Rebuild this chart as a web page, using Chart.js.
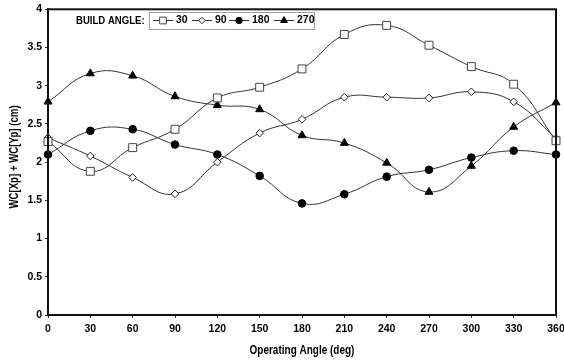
<!DOCTYPE html>
<html>
<head>
<meta charset="utf-8">
<script src="https://cdn.jsdelivr.net/npm/chart.js@4/dist/chart.umd.min.js"></script>
<style>
  html, body { margin: 0; padding: 0; background: #fff; }
  #wrap { width: 564px; height: 360px; }
</style>
</head>
<body>
<div id="wrap"><canvas id="c" width="564" height="360"></canvas></div>
<script>
// Operating angles (deg)
const angles = [0, 30, 60, 90, 120, 150, 180, 210, 240, 270, 300, 330, 360];

// WC[Xp] + WC[Yp] (cm) for each build angle
const build30  = [2.27, 1.88, 2.19, 2.43, 2.84, 2.98, 3.22, 3.67, 3.79, 3.53, 3.25, 3.02, 2.28];
const build90  = [2.32, 2.08, 1.80, 1.585, 2.00, 2.38, 2.56, 2.85, 2.85, 2.84, 2.92, 2.79, 2.31];
const build180 = [2.10, 2.41, 2.43, 2.23, 2.10, 1.82, 1.46, 1.58, 1.81, 1.90, 2.06, 2.15, 2.10];
const build270 = [2.79, 3.16, 3.13, 2.86, 2.745, 2.69, 2.35, 2.25, 1.99, 1.61, 1.95, 2.46, 2.78];

const seriesLabels = ['30', '90', '180', '270'];
const legendTitle = 'BUILD ANGLE:';
const xTitle = 'Operating Angle (deg)';
const yTitle = 'WC[Xp] + WC[Yp] (cm)';

const FONT = "'Liberation Sans', Arial, Helvetica, sans-serif";
const LINE = '#333333';

function pts(values) {
  return angles.map((a, i) => ({ x: a, y: values[i] }));
}

const markerStyles = [
  { pointStyle: 'rect',    radius: 5.6, fill: '#ffffff', stroke: '#444444' },
  { pointStyle: 'rectRot', radius: 3.8, fill: '#ffffff', stroke: '#222222' },
  { pointStyle: 'circle',  radius: 3.8, fill: '#000000', stroke: '#000000' },
  { pointStyle: 'triangle',radius: 4.6, fill: '#000000', stroke: '#000000' }
];

const seriesValues = [build30, build90, build180, build270];

const datasets = seriesValues.map((vals, i) => ({
  label: seriesLabels[i],
  data: pts(vals),
  borderColor: LINE,
  borderWidth: 1,
  tension: 0.45,
  pointStyle: markerStyles[i].pointStyle,
  pointRadius: markerStyles[i].radius,
  pointBackgroundColor: markerStyles[i].fill,
  pointBorderColor: markerStyles[i].stroke,
  pointBorderWidth: 1,
  clip: false
}));

// Condensed bold text helper (horizontal squeeze of a regular face)
function condensedText(ctx, text, x, y, size, squeeze, angle, align) {
  ctx.save();
  ctx.translate(x, y);
  if (angle) ctx.rotate(angle);
  ctx.scale(squeeze, 1);
  ctx.font = 'bold ' + size + 'px ' + FONT;
  ctx.fillStyle = '#000';
  ctx.textAlign = align || 'center';
  ctx.textBaseline = 'middle';
  ctx.fillText(text, 0, 0);
  ctx.restore();
}

// Frame around the plotting area, axis titles and the inline legend
const framePlugin = {
  id: 'frame',
  afterDatasetsDraw(chart) {
    const { ctx, chartArea: a } = chart;
    ctx.save();
    ctx.strokeStyle = '#111';
    ctx.lineWidth = 2;
    ctx.strokeRect(a.left, a.top, a.right - a.left, a.bottom - a.top);
    ctx.restore();
  },
  afterDraw(chart) {
    const { ctx, chartArea: a } = chart;

    condensedText(ctx, xTitle, (a.left + a.right) / 2, 350, 13.5, 0.74, 0);
    condensedText(ctx, yTitle, 14, 157, 13.5, 0.715, -Math.PI / 2);

    const cy = 20.5;
    condensedText(ctx, legendTitle, 76, cy, 11, 0.87, 0, 'left');

    ctx.save();
    ctx.font = 'bold 10.5px ' + FONT;
    ctx.fillStyle = '#000';
    ctx.textBaseline = 'middle';

    // legend box
    const boxL = 149, boxR = 314, boxT = 12, boxB = 29;
    ctx.strokeStyle = '#a0a0a0';
    ctx.lineWidth = 1;
    ctx.strokeRect(boxL + 0.5, boxT + 0.5, boxR - boxL, boxB - boxT);

    const symStarts = [153, 192, 229, 274];
    const symLen = 20;
    ctx.textAlign = 'left';
    seriesLabels.forEach((lab, i) => {
      const s = symStarts[i];
      ctx.strokeStyle = LINE;
      ctx.lineWidth = 1;
      ctx.beginPath();
      ctx.moveTo(s, cy);
      ctx.lineTo(s + symLen, cy);
      ctx.stroke();
      const m = markerStyles[i];
      ctx.fillStyle = m.fill;
      ctx.strokeStyle = m.stroke;
      Chart.helpers.drawPoint(ctx, {
        pointStyle: m.pointStyle,
        radius: m.radius * 0.85,
        rotation: 0,
        borderWidth: 1
      }, s + symLen / 2, cy);
      ctx.fillStyle = '#000';
      ctx.fillText(lab, s + symLen + 3, cy);
    });
    ctx.restore();
  }
};

Chart.defaults.font.family = FONT;
Chart.defaults.color = '#000';

new Chart(document.getElementById('c'), {
  type: 'line',
  data: { datasets },
  options: {
    responsive: false,
    animation: false,
    events: [],
    layout: { padding: { left: 0, right: 8, top: 8, bottom: 0 } },
    plugins: {
      legend: { display: false },
      tooltip: { enabled: false }
    },
    scales: {
      x: {
        type: 'linear',
        min: 0,
        max: 360,
        afterFit(scale) {
          scale.height = 45;
          scale.paddingLeft = 0;
          scale.paddingRight = 0;
        },
        ticks: {
          stepSize: 30,
          font: { size: 10.5, weight: 'bold' },
          color: '#000',
          padding: 5,
          maxRotation: 0
        },
        grid: {
          drawOnChartArea: false,
          drawTicks: true,
          tickLength: 3,
          tickColor: '#333'
        },
        border: { display: true, color: '#111', width: 2 }
      },
      y: {
        min: 0,
        max: 4,
        afterFit(scale) { scale.width = 48; },
        ticks: {
          stepSize: 0.5,
          font: { size: 10.5, weight: 'bold' },
          color: '#000',
          padding: 3,
          callback: (v) => String(Number(v.toFixed(1)))
        },
        grid: {
          drawOnChartArea: false,
          drawTicks: true,
          tickLength: 3,
          tickColor: '#333'
        },
        border: { display: true, color: '#111', width: 2 }
      }
    }
  },
  plugins: [framePlugin]
});
</script>
</body>
</html>
